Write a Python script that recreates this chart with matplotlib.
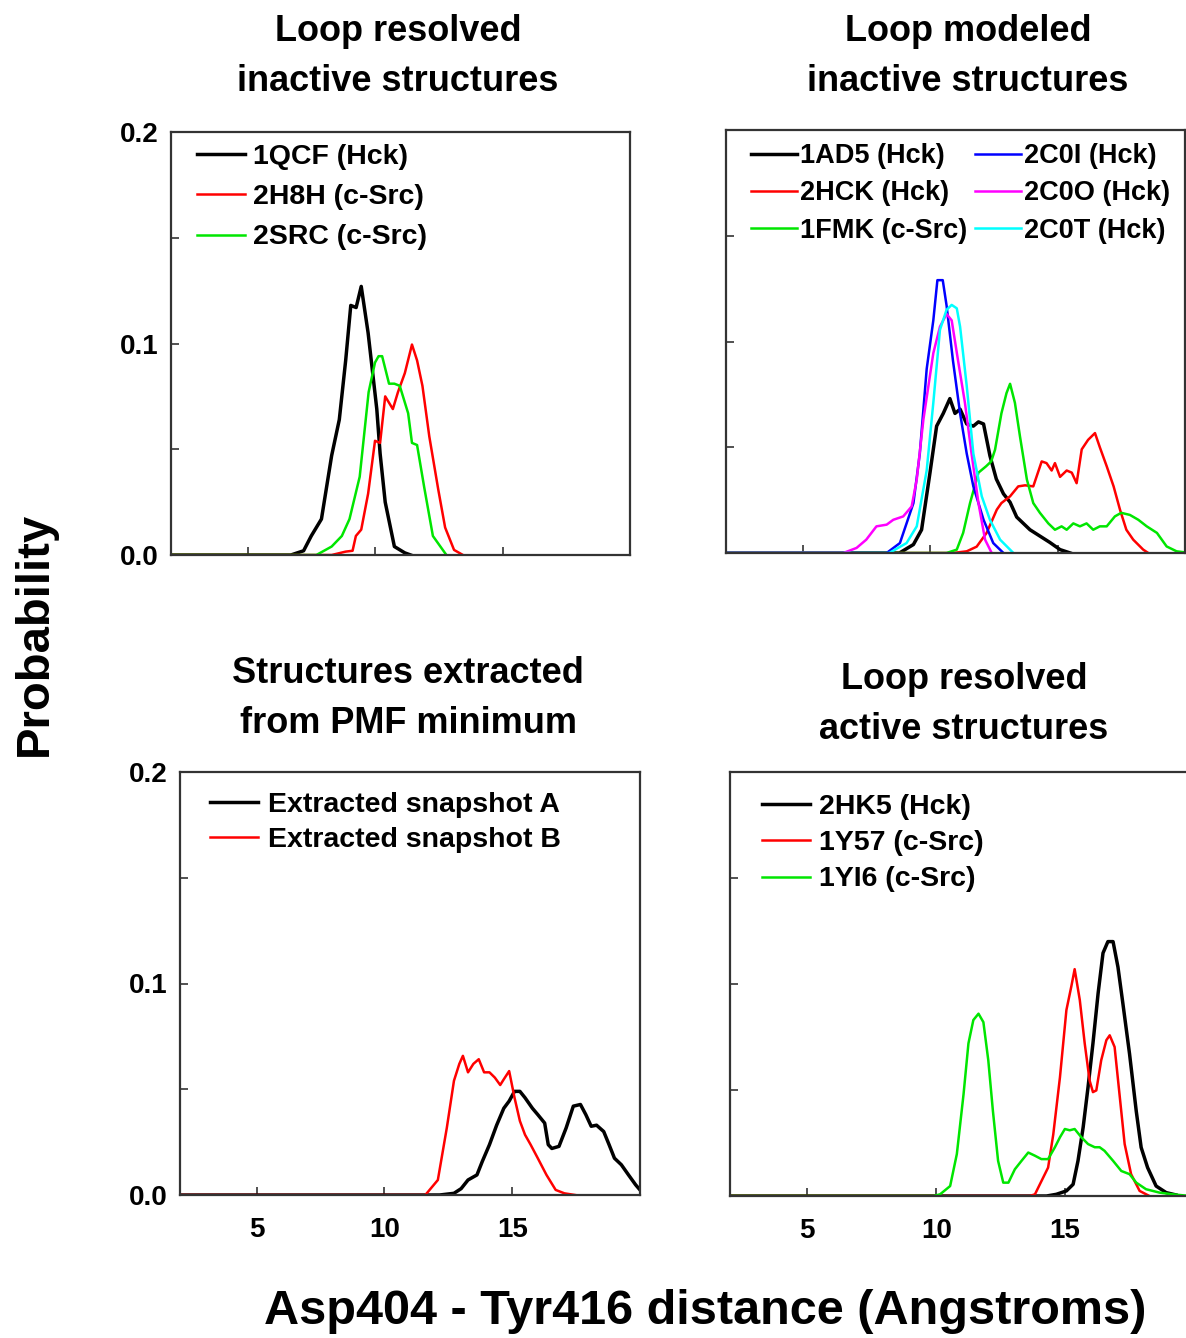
"""
Asp404 - Tyr416 distance distributions for four groups of kinase structures.
"""

import matplotlib
matplotlib.use("Agg")
import matplotlib.pyplot as plt

plt.rcParams["font.family"] = ["Liberation Sans", "DejaVu Sans"]
plt.rcParams["font.weight"] = "bold"

W, H = 1186, 1338

# ---- panel A: loop resolved inactive structures
a_qcf_x = [2, 6.7, 7.2, 7.5, 7.9, 8.3, 8.6, 8.85, 9.05, 9.26, 9.46, 9.73, 10.07, 10.2,
           10.4, 10.76, 11.17, 11.4]
a_qcf_y = [0, 0, 0.002, 0.009, 0.017, 0.047, 0.064, 0.092, 0.118, 0.117, 0.127, 0.105,
           0.069, 0.048, 0.025, 0.004, 0.001, 0]
a_h8h_x = [2, 8.3, 8.85, 9.12, 9.25, 9.46, 9.73, 10.0, 10.2, 10.4, 10.55, 10.7, 10.9,
           11.17, 11.45, 11.65, 11.86, 12.13, 12.48, 12.75, 13.1, 13.45]
a_h8h_y = [0, 0, 0.0016, 0.002, 0.009, 0.012, 0.029, 0.054, 0.053, 0.075, 0.072, 0.069,
           0.077, 0.086, 0.0995, 0.092, 0.080, 0.056, 0.031, 0.013, 0.0024, 0]
a_src_x = [2, 7.7, 8.3, 8.7, 9.0, 9.4, 9.75, 10.0, 10.14, 10.28, 10.55, 10.76, 10.97,
           11.3, 11.45, 11.65, 11.93, 12.27, 12.8]
a_src_y = [0, 0, 0.004, 0.009, 0.017, 0.037, 0.077, 0.091, 0.094, 0.094, 0.081, 0.081,
           0.080, 0.067, 0.053, 0.052, 0.032, 0.009, 0]

# ---- panel B: loop modeled inactive structures
b_ad5_x = [2, 8.8, 9.35, 9.67, 10.0, 10.26, 10.52, 10.78, 10.98, 11.18, 11.44, 11.7,
           11.9, 12.1, 12.35, 12.6, 12.88, 13.14, 13.4, 13.66, 13.92, 14.31, 14.7,
           15.1, 15.5]
b_ad5_y = [0, 0, 0.004, 0.011, 0.038, 0.060, 0.066, 0.073, 0.066, 0.068, 0.061, 0.060,
           0.062, 0.061, 0.046, 0.035, 0.028, 0.024, 0.017, 0.014, 0.011, 0.008, 0.005,
           0.0016, 0]
b_hck_x = [2, 10.9, 11.44, 11.83, 12.22, 12.62, 12.8, 13.14, 13.46, 13.73, 14.05, 14.38,
           14.57, 14.77, 14.9, 15.1, 15.36, 15.56, 15.75, 15.95, 16.2, 16.47, 16.66,
           16.93, 17.2, 17.45, 17.7, 17.97, 18.36, 18.56]
b_hck_y = [0, 0, 0.0008, 0.003, 0.0095, 0.0205, 0.0236, 0.0268, 0.0315, 0.032, 0.0315,
           0.0433, 0.0425, 0.039, 0.0425, 0.036, 0.039, 0.038, 0.033, 0.049, 0.0535,
           0.0567, 0.050, 0.041, 0.0315, 0.0205, 0.011, 0.0063, 0.0016, 0]
b_fmk_x = [2, 10.65, 11.05, 11.3, 11.57, 11.9, 12.2, 12.4, 12.55, 12.8, 13.0, 13.14,
           13.33, 13.53, 13.8, 14.05, 14.31, 14.64, 14.9, 15.16, 15.36, 15.62, 15.88,
           16.14, 16.4, 16.66, 16.93, 17.25, 17.5, 17.84, 18.17, 18.5, 18.9, 19.28,
           19.67, 20.0]
b_fmk_y = [0, 0, 0.0016, 0.0095, 0.0236, 0.038, 0.041, 0.0433, 0.0488, 0.066, 0.0756,
           0.080, 0.071, 0.055, 0.0347, 0.0236, 0.019, 0.014, 0.011, 0.0126, 0.011,
           0.014, 0.0126, 0.014, 0.011, 0.0126, 0.0126, 0.0173, 0.019, 0.018, 0.0157,
           0.0126, 0.0095, 0.0031, 0.0008, 0.0003]
b_c0i_x = [2, 8.3, 8.82, 9.35, 9.6, 9.87, 10.13, 10.29, 10.5, 10.65, 10.9, 11.18, 11.44,
           11.7, 12.1, 12.48, 12.88]
b_c0i_y = [0, 0, 0.0047, 0.0236, 0.047, 0.087, 0.110, 0.129, 0.129, 0.117, 0.091, 0.066,
           0.047, 0.0315, 0.0157, 0.0047, 0]
b_c0o_x = [2, 6.6, 7.12, 7.5, 7.9, 8.3, 8.56, 8.95, 9.28, 9.48, 9.74, 10.13, 10.39,
           10.65, 10.85, 11.1, 11.37, 11.63, 11.9, 12.16, 12.42]
b_c0o_y = [0, 0, 0.0024, 0.0063, 0.0126, 0.0134, 0.0157, 0.0173, 0.022, 0.0347, 0.063,
           0.0945, 0.107, 0.113, 0.110, 0.091, 0.071, 0.047, 0.0236, 0.0063, 0]
b_c0t_x = [2, 8.4, 9.08, 9.48, 9.87, 10.13, 10.39, 10.65, 10.85, 11.05, 11.18, 11.44,
           11.7, 12.03, 12.35, 12.75, 13.27]
b_c0t_y = [0, 0, 0.0047, 0.0126, 0.039, 0.071, 0.1055, 0.115, 0.1173, 0.1157, 0.107,
           0.079, 0.047, 0.0268, 0.0157, 0.0063, 0]

# ---- panel C: structures extracted from PMF minimum
c_snapa_x = [2, 12.16, 12.72, 13.0, 13.27, 13.62, 13.83, 14.11, 14.39, 14.67, 14.88,
             15.09, 15.3, 15.5, 15.79, 16.0, 16.27, 16.41, 16.55, 16.83, 17.11, 17.39,
             17.67, 17.88, 18.09, 18.3, 18.58, 18.79, 19.0, 19.27, 19.55, 19.83, 20.0]
c_snapa_y = [0, 0, 0.0008, 0.003, 0.0071, 0.0095, 0.0159, 0.0238, 0.033, 0.041, 0.0444,
             0.049, 0.049, 0.046, 0.041, 0.038, 0.034, 0.0238, 0.022, 0.023, 0.0317,
             0.042, 0.0428, 0.038, 0.0325, 0.033, 0.030, 0.0238, 0.0174, 0.0143, 0.0095,
             0.0048, 0.0024]
c_snapb_x = [2, 11.6, 12.09, 12.44, 12.72, 12.93, 13.07, 13.27, 13.48, 13.69, 13.9,
             14.11, 14.32, 14.53, 14.67, 14.88, 15.09, 15.3, 15.5, 15.72, 16.0, 16.34,
             16.7, 17.04, 17.46]
c_snapb_y = [0, 0, 0.0071, 0.0317, 0.054, 0.062, 0.0658, 0.058, 0.062, 0.0642, 0.058,
             0.058, 0.0555, 0.052, 0.0547, 0.0586, 0.046, 0.035, 0.0285, 0.0238, 0.0174,
             0.0095, 0.0024, 0.0008, 0]

# ---- panel D: loop resolved active structures
d_hk5_x = [2, 14.28, 14.66, 15.05, 15.31, 15.5, 15.7, 15.89, 16.08, 16.28, 16.47, 16.66,
           16.86, 17.05, 17.24, 17.5, 17.76, 17.95, 18.2, 18.53, 18.92, 19.3]
d_hk5_y = [0, 0, 0.0008, 0.0024, 0.0055, 0.0166, 0.0324, 0.0514, 0.072, 0.0956, 0.1146,
           0.120, 0.120, 0.108, 0.0909, 0.067, 0.040, 0.0229, 0.0134, 0.0047, 0.0016,
           0.0005]
d_y57_x = [2, 13.63, 13.83, 14.02, 14.34, 14.54, 14.8, 15.05, 15.24, 15.37, 15.57, 15.76,
           15.95, 16.08, 16.21, 16.4, 16.6, 16.73, 16.92, 17.11, 17.31, 17.56, 17.89,
           18.27]
d_y57_y = [0, 0, 0.0008, 0.0055, 0.0134, 0.029, 0.056, 0.0877, 0.0988, 0.107, 0.0924,
           0.072, 0.0545, 0.049, 0.0498, 0.064, 0.0735, 0.0758, 0.0703, 0.048, 0.0245,
           0.0103, 0.0024, 0]
d_yi6_x = [2, 9.9, 10.15, 10.54, 10.8, 11.06, 11.25, 11.44, 11.64, 11.83, 12.02, 12.2,
           12.4, 12.6, 12.8, 13.05, 13.31, 13.57, 13.83, 14.08, 14.34, 14.6, 14.8, 14.99,
           15.18, 15.37, 15.63, 15.89, 16.15, 16.34, 16.53, 16.86, 17.18, 17.5, 17.76,
           18.14, 18.66, 19.17, 19.6, 20.0]
d_yi6_y = [0, 0, 0.0008, 0.0047, 0.0198, 0.048, 0.072, 0.083, 0.086, 0.082, 0.064, 0.040,
           0.0166, 0.0063, 0.0063, 0.0126, 0.0166, 0.0205, 0.019, 0.0174, 0.0174, 0.0229,
           0.0277, 0.0316, 0.031, 0.0316, 0.0277, 0.0245, 0.023, 0.023, 0.0213, 0.0166,
           0.0118, 0.0103, 0.0063, 0.0032, 0.0016, 0.0008, 0.0003, 0]

BLACK, RED, GREEN = "#000000", "#ff0000", "#00e600"
BLUE, MAGENTA, CYAN = "#0000ff", "#ff00ff", "#00ffff"


def make_axes(left, right, top, bottom, xlabels, ylabels):
    ax = fig.add_axes([left / W, 1 - bottom / H, (right - left) / W, (bottom - top) / H])
    ax.set_xlim(2, 20)
    ax.set_ylim(0, 0.2)
    ax.set_xticks([5, 10, 15])
    ax.set_yticks([0, 0.05, 0.1, 0.15, 0.2])
    ax.set_yticklabels(["0.0", "", "0.1", "", "0.2"])
    ax.tick_params(direction="in", length=6, width=1.2, color="#333333",
                   labelsize=20, labelbottom=xlabels, labelleft=ylabels)
    ax.tick_params(axis="x", pad=16)
    ax.tick_params(axis="y", pad=9)
    for s in ax.spines.values():
        s.set_linewidth(1.6)
        s.set_color("#333333")
    return ax


def curve(ax, x, y, color, label):
    lw = 2.5 if color == BLACK else 1.8
    ax.plot(x, y, color=color, lw=lw, label=label)


def legend(ax, x, y, spacing, size=20.5, **kw):
    ax.legend(loc="upper left", bbox_to_anchor=(x / W, 1 - y / H),
              bbox_transform=fig.transFigure, frameon=False, fontsize=size,
              handlelength=1.7, labelspacing=spacing, borderpad=0,
              borderaxespad=0, **kw)


fig = plt.figure(figsize=(W / 100, H / 100), dpi=100)

# top left
ax1 = make_axes(171, 630, 132, 555, False, True)
curve(ax1, a_qcf_x, a_qcf_y, BLACK, "1QCF (Hck)")
curve(ax1, a_h8h_x, a_h8h_y, RED, "2H8H (c-Src)")
curve(ax1, a_src_x, a_src_y, GREEN, "2SRC (c-Src)")
legend(ax1, 197, 144, 0.5, handletextpad=0.25)

# top right
ax2 = make_axes(726, 1185, 130, 553, False, False)
curve(ax2, b_ad5_x, b_ad5_y, BLACK, "1AD5 (Hck)")
curve(ax2, b_hck_x, b_hck_y, RED, "2HCK (Hck)")
curve(ax2, b_fmk_x, b_fmk_y, GREEN, "1FMK (c-Src)")
curve(ax2, b_c0i_x, b_c0i_y, BLUE, "2C0I (Hck)")
curve(ax2, b_c0o_x, b_c0o_y, MAGENTA, "2C0O (Hck)")
curve(ax2, b_c0t_x, b_c0t_y, CYAN, "2C0T (Hck)")
legend(ax2, 751, 143, 0.42, size=19.5, ncol=2, handletextpad=0.1, columnspacing=0.3)

# bottom left
ax3 = make_axes(180, 640, 772, 1195, True, True)
curve(ax3, c_snapa_x, c_snapa_y, BLACK, "Extracted snapshot A")
curve(ax3, c_snapb_x, c_snapb_y, RED, "Extracted snapshot B")
legend(ax3, 210, 792, 0.32, handletextpad=0.35)

# bottom right (right edge runs off the page as in the source)
ax4 = make_axes(730, 1194, 772, 1196, True, False)
curve(ax4, d_hk5_x, d_hk5_y, BLACK, "2HK5 (Hck)")
curve(ax4, d_y57_x, d_y57_y, RED, "1Y57 (c-Src)")
curve(ax4, d_yi6_x, d_yi6_y, GREEN, "1YI6 (c-Src)")
legend(ax4, 762, 794, 0.36, handletextpad=0.3)

# panel titles
tkw = dict(ha="center", va="top", fontsize=26, fontweight="bold", linespacing=1.55)
fig.text(398 / W, 1 - 14 / H, "Loop resolved\ninactive structures", **tkw)
fig.text(968 / W, 1 - 14 / H, "Loop modeled\ninactive structures", **tkw)
fig.text(408 / W, 1 - 656 / H, "Structures extracted\nfrom PMF minimum", **tkw)
fig.text(964 / W, 1 - 662 / H, "Loop resolved\nactive structures", **tkw)

fig.text(35 / W, 1 - 634 / H, "Probability", rotation=90, ha="center", va="center",
         fontsize=34, fontweight="bold")
fig.text(705 / W, 1 - 1312 / H, "Asp404 - Tyr416 distance (Angstroms)", ha="center",
         va="center", fontsize=35, fontweight="bold")

fig.savefig("out.png", dpi=100)
